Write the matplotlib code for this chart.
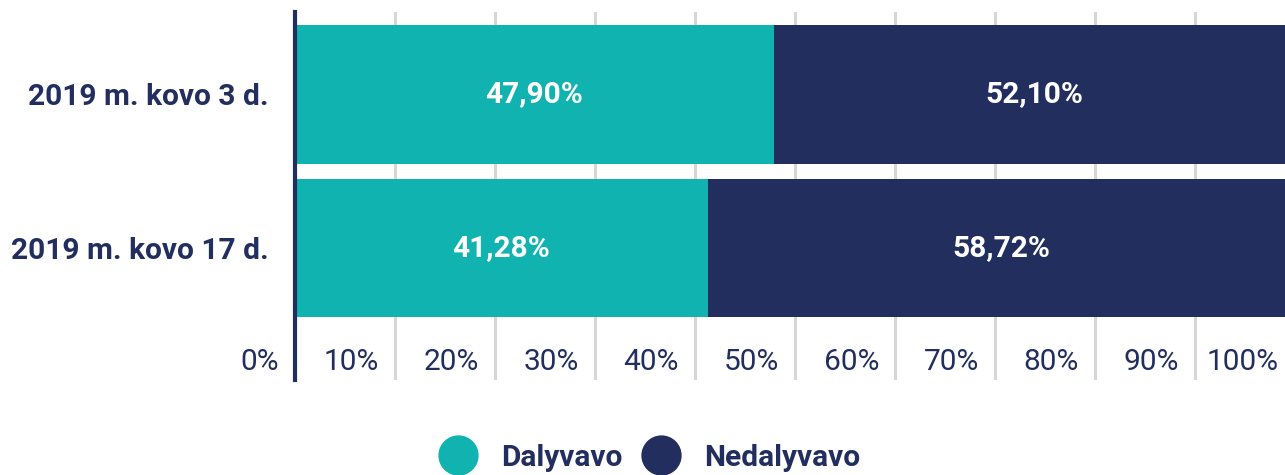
import matplotlib
matplotlib.use("Agg")
from matplotlib import pyplot as plt
from matplotlib.lines import Line2D
from matplotlib.transforms import blended_transform_factory

plt.rcParams['font.family'] = ['Roboto', 'DejaVu Sans']

categories = ["2019 m. kovo 17 d.", "2019 m. kovo 3 d."]
dalyvavo = [41.28, 47.90]
nedalyvavo = [58.72, 52.10]
series_names = ["Dalyvavo", "Nedalyvavo"]
ticks = [0, 10, 20, 30, 40, 50, 60, 70, 80, 90, 100]

teal = "#10b3af"
navy = "#212e5e"

fig = plt.figure(figsize=(12.85, 4.75), dpi=100)
ax = fig.add_axes([295 / 1285, 1 - 380 / 475, 1000 / 1285, 368 / 475])

y = list(range(len(categories)))
ax.barh(y, dalyvavo, height=0.9, color=teal, zorder=3)
ax.barh(y, nedalyvavo, left=dalyvavo, height=0.9, color=navy, zorder=3)

for i in y:
    ax.text(dalyvavo[i] / 2, i, f"{dalyvavo[i]:.2f}%".replace(".", ","),
            ha="center", va="center", color="white", fontsize=21.5,
            fontweight="bold", zorder=4)
    ax.text(dalyvavo[i] + nedalyvavo[i] / 2, i,
            f"{nedalyvavo[i]:.2f}%".replace(".", ","),
            ha="center", va="center", color="white", fontsize=21.5,
            fontweight="bold", zorder=4)

ax.set_xlim(0, 100)
ax.set_ylim(-0.86, 1.537)

for t in ticks[1:]:
    ax.axvline(t, color="#d6d6d6", lw=2.2, zorder=1)

# tick labels sit inside the axes, right aligned to each gridline
trans = blended_transform_factory(ax.transData, ax.transData)
for t in ticks:
    ax.text(t - 1.6, -0.74, f"{t}%", ha="right", va="center",
            color=navy, fontsize=21.5, transform=trans)

ax.set_xticks([])
ax.set_yticks(y)
ax.set_yticklabels(categories, fontsize=21.5, fontweight="bold", color=navy)
ax.tick_params(axis="y", length=0, pad=19)

for s in ["top", "right", "bottom"]:
    ax.spines[s].set_visible(False)
ax.spines["left"].set_color(navy)
ax.spines["left"].set_linewidth(3)
ax.spines["left"].set_zorder(5)

handles = [Line2D([], [], marker="o", ls="", markersize=28, color=teal),
           Line2D([], [], marker="o", ls="", markersize=28, color=navy)]
leg = fig.legend(handles, series_names, loc="center", ncol=2,
                 bbox_to_anchor=(0.506, 0.036), frameon=False,
                 prop={"weight": "bold", "size": 21.5}, handletextpad=0.85,
                 columnspacing=0.67, handlelength=1.2)
for txt in leg.get_texts():
    txt.set_color(navy)

fig.savefig("out.png", dpi=100)
